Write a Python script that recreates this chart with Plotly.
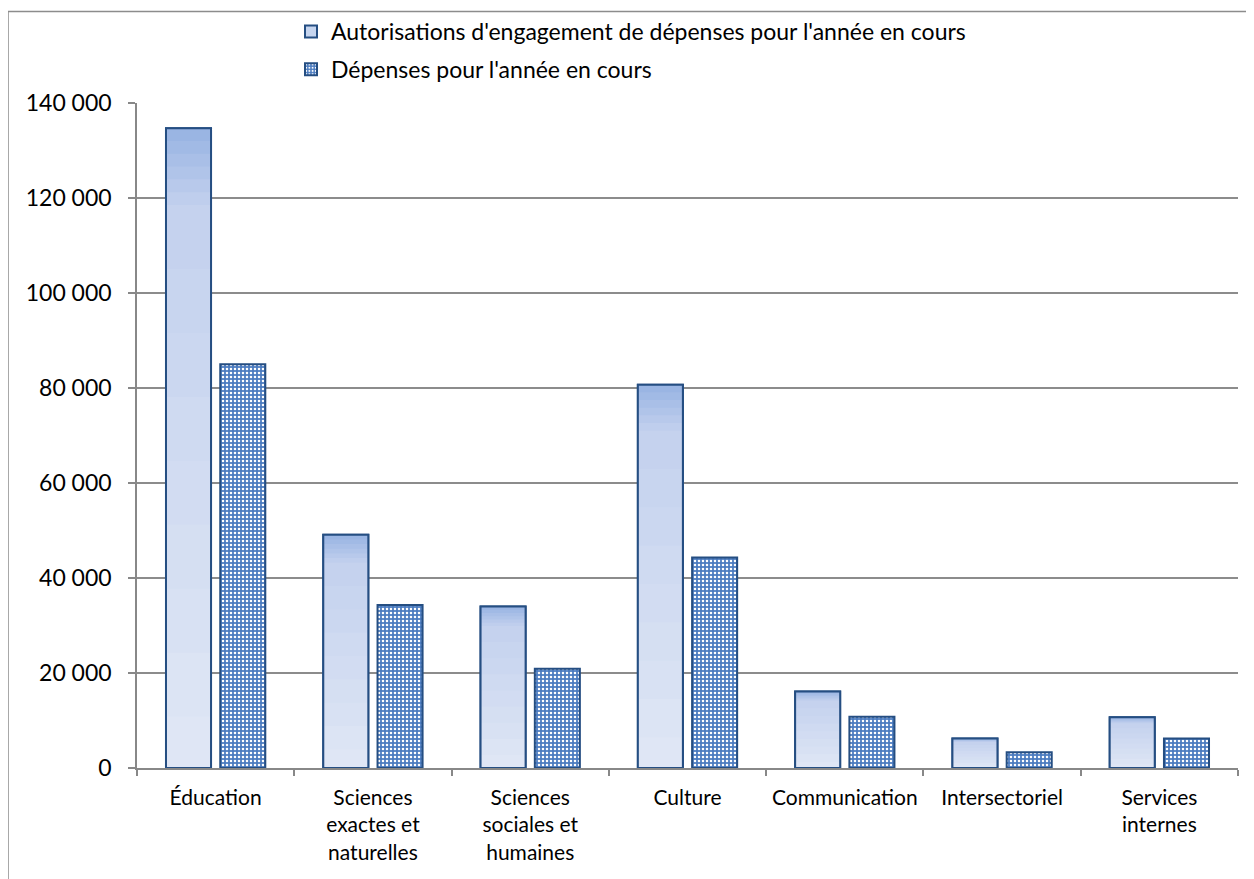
import plotly.graph_objects as go

categories = ["Éducation", "Sciences<br>exactes et<br>naturelles", "Sciences<br>sociales et<br>humaines",
              "Culture", "Communication", "Intersectoriel", "Services<br>internes"]
autorisations = [134700, 49100, 34000, 80700, 16100, 6200, 10700]
depenses = [85000, 34300, 20900, 44300, 10800, 3300, 6200]
series_names = ["Autorisations d'engagement de dépenses pour l'année en cours",
                "Dépenses pour l'année en cours"]
y_ticks = [0, 20000, 40000, 60000, 80000, 100000, 120000, 140000]

# page has an 8px body margin; figure coordinates below are relative to the figure
OFF = 8
W, H = 1254 - OFF, 879 - OFF
L, T = 137 - OFF, 103 - OFF
pw, ph = 1101, 665
R, B = W - L - pw, H - T - ph

def px_x(p):
    return (p - OFF - L) / pw

def px_y(p):
    return (H - B - (p - OFF)) / ph

FONT = "Lato"
edge = "#254e82"

# vertical gradient for the first series (style only: fractions of each bar's height)
def hex2rgb(h):
    h = h.lstrip("#")
    return [int(h[i:i + 2], 16) for i in (0, 2, 4)]

def mix(c1, c2, t):
    a, b = hex2rgb(c1), hex2rgb(c2)
    return "rgb(%d,%d,%d)" % tuple(round(a[i] + (b[i] - a[i]) * t) for i in range(3))

def grad_color(h):
    if h > 0.88:
        return mix("#c3d1ee", "#96b2e2", (h - 0.88) / 0.12)
    return mix("#e0e7f5", "#c3d1ee", h / 0.88)

levels = [1.0, 0.98, 0.96, 0.94, 0.92, 0.90, 0.88, 0.78, 0.68, 0.58, 0.48, 0.38, 0.28, 0.18, 0.08]

fig = go.Figure()
# legend carrier / base bar
fig.add_trace(go.Bar(
    x=categories, y=autorisations, name=series_names[0], offsetgroup="a", legendgroup="a",
    marker=dict(color="#c6d5ef", line=dict(color=edge, width=2)),
))
for i, f in enumerate(levels):
    nxt = levels[i + 1] if i + 1 < len(levels) else 0.0
    fig.add_trace(go.Bar(
        x=categories, y=[v * f for v in autorisations], offsetgroup="a", legendgroup="a",
        showlegend=False, hoverinfo="skip",
        marker=dict(color=grad_color((f + nxt) / 2), line=dict(width=0)),
    ))
# outline on top
fig.add_trace(go.Bar(
    x=categories, y=autorisations, offsetgroup="a", legendgroup="a",
    showlegend=False, hoverinfo="skip",
    marker=dict(color="rgba(0,0,0,0)", line=dict(color=edge, width=2)),
))
fig.add_trace(go.Bar(
    x=categories, y=depenses, name=series_names[1], offsetgroup="b", legendgroup="b",
    marker=dict(color="#4a7abf", line=dict(color=edge, width=2),
                pattern=dict(shape=".", fgcolor="white", bgcolor="#4c7cc0",
                             size=4, solidity=0.32, fillmode="replace")),
))

fig.update_layout(
    width=W, height=H,
    margin=dict(l=L, r=R, t=T, b=B, autoexpand=False),
    paper_bgcolor="white", plot_bgcolor="white",
    barmode="group", bargap=0.31, bargroupgap=0.17,
    separators=", ",
    font=dict(family=FONT, size=21, color="#000000"),
    showlegend=True,
    legend=dict(x=px_x(291), y=px_y(10), xanchor="left", yanchor="top",
                orientation="v", font=dict(family=FONT, size=23),
                itemwidth=30, tracegroupgap=5, bgcolor="rgba(0,0,0,0)"),
    xaxis=dict(showline=True, linecolor="#888888", linewidth=1.5,
               ticks="outside", tickson="boundaries", ticklen=6,
               tickcolor="#888888", tickwidth=1.5, ticklabelstandoff=10,
               tickfont=dict(family=FONT, size=21), showgrid=False),
    yaxis=dict(range=[0, 140000], tickvals=y_ticks, tickformat=",d",
               showline=True, linecolor="#888888", linewidth=1.5,
               ticks="outside", ticklen=7, tickcolor="#888888", tickwidth=1.5,
               showgrid=True, gridcolor="#8c8c8c", gridwidth=1.5,
               zeroline=False, ticklabelstandoff=12,
               tickfont=dict(family=FONT, size=23)),
    shapes=[dict(type="rect", xref="paper", yref="paper",
                 x0=px_x(8), x1=px_x(1280), y0=px_y(900), y1=px_y(11.5),
                 line=dict(color="#8c8c8c", width=1.5), fillcolor="rgba(0,0,0,0)",
                 layer="below")],
)

fig.write_html("out.html")
